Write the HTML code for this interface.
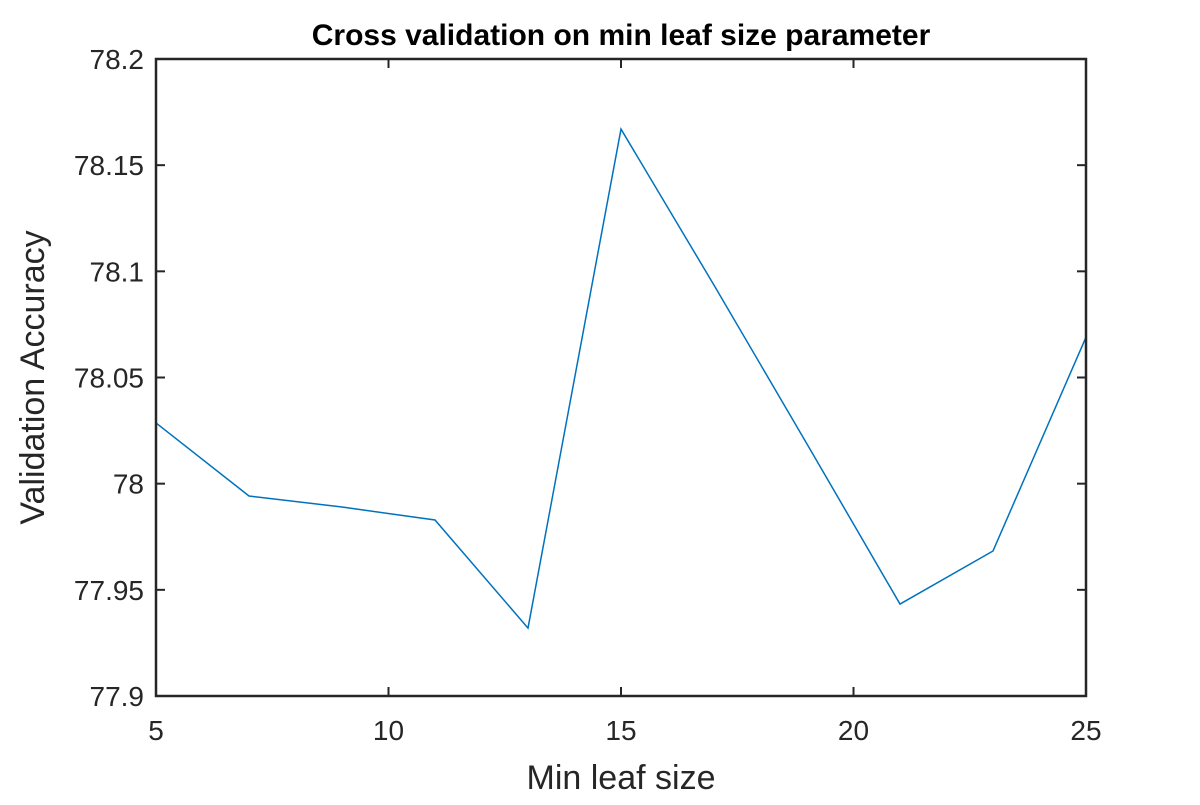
<!DOCTYPE html>
<html><head><meta charset="utf-8"><style>
html,body{margin:0;padding:0;background:#fff;}
text{font-family:"Liberation Sans",sans-serif;}
</style></head><body>
<svg id="chart" width="1200" height="800" viewBox="0 0 1200 800"></svg>
<script>
const xValues = [5,7,9,11,13,15,17,19,21,23,25];
const accuracy = [78.0286,77.9942,77.989,77.9829,77.932,78.167,78.0935,78.0187,77.9433,77.9683,78.069];
const xTicks = [5,10,15,20,25];
const yTicks = [77.9,77.95,78,78.05,78.1,78.15,78.2];
const yTickLabels = ["77.9","77.95","78","78.05","78.1","78.15","78.2"];

const L=156,R=1086,T=59,B=696;
const xs=v=>L+(v-5)/(25-5)*(R-L);
const ys=v=>B-(v-77.9)/(78.2-77.9)*(B-T);
const svg=document.getElementById('chart');
const NS='http://www.w3.org/2000/svg';
function mk(tag,attrs,parent){const e=document.createElementNS(NS,tag);for(const k in attrs)e.setAttribute(k,attrs[k]);(parent||svg).appendChild(e);return e;}

const bg=mk('rect',{x:L,y:T,width:R-L,height:B-T,fill:'#fff'});



const gx=mk('g',{});


xTicks.forEach(t=>{
  mk('line',{x1:xs(t),x2:xs(t),y1:B,y2:B-9,stroke:'#262626','stroke-width':2},gx);
  mk('line',{x1:xs(t),x2:xs(t),y1:T,y2:T+9,stroke:'#262626','stroke-width':2},gx);
  const tx=mk('text',{x:xs(t),y:B+44,'text-anchor':'middle','font-size':28,fill:'#262626'},gx);
  tx.textContent=t;
  
  
});
const gy=mk('g',{});


yTicks.forEach((t,i)=>{
  mk('line',{x1:L,x2:L+9,y1:ys(t),y2:ys(t),stroke:'#262626','stroke-width':2},gy);
  mk('line',{x1:R,x2:R-9,y1:ys(t),y2:ys(t),stroke:'#262626','stroke-width':2},gy);
  const tx=mk('text',{x:L-12,y:ys(t)+10,'text-anchor':'end','font-size':28,fill:'#262626'},gy);
  tx.textContent=yTickLabels[i];
  
  
});

const line=mk('polyline',{points:xValues.map((x,i)=>xs(x)+','+ys(accuracy[i])).join(' '),fill:'none',stroke:'#0072BD','stroke-width':1.5});



const frame=mk('rect',{x:L,y:T,width:R-L,height:B-T,fill:'none',stroke:'#262626','stroke-width':2.5});



const title=mk('text',{x:(L+R)/2,y:45,'text-anchor':'middle','font-size':30,'font-weight':'bold',fill:'#000'});
title.textContent='Cross validation on min leaf size parameter';



const xl=mk('text',{x:(L+R)/2,y:789,'text-anchor':'middle','font-size':34,fill:'#262626'});
xl.textContent='Min leaf size';



const yl=mk('text',{x:0,y:0,transform:'translate(44,'+((T+B)/2)+') rotate(-90)','text-anchor':'middle','font-size':34,fill:'#262626'});
yl.textContent='Validation Accuracy';


</script>
</body></html>
